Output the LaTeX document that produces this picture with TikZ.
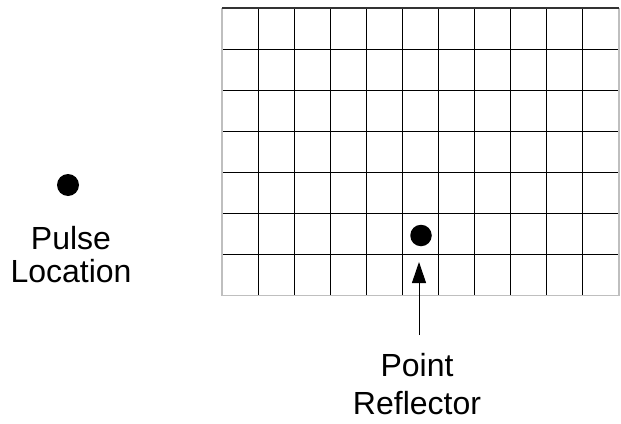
\documentclass[tikz,border=0pt]{standalone}
\usepackage{fontspec}
\setmainfont{Liberation Sans}
\usetikzlibrary{arrows.meta}
\begin{document}
\begin{tikzpicture}[x=1pt,y=-1pt,
  dot/.style={circle,fill=black,inner sep=0pt,minimum size=22pt},
  lbl/.style={anchor=base,inner sep=0pt,font=\fontsize{32}{36}\selectfont},
  gridline/.style={line width=1pt,black},
  border/.style={line width=1.3pt,color=black!25}]
\useasboundingbox (0,0) rectangle (621,423);
% grid
\foreach \i in {1,...,10} {
  \draw[gridline] ({222+\i*397/11},8) -- ({222+\i*397/11},295.5);
}
\foreach \j in {1,...,6} {
  \draw[gridline] (222,{8+\j*287.5/7}) -- (619,{8+\j*287.5/7});
}
\draw[border] (222,8) -- (222,295.5) -- (619,295.5) -- (619,8);
\draw[line width=1.2pt,black!80] (222,8) -- (619,8);
% pulse
\node[dot] (pulse) at (68,185) {};
\node[lbl] (pulsetxt) at (71,249) {Pulse};
\node[lbl] (loctxt) at (71,282) {Location};
% reflector
\node[dot,minimum size=21.5pt] (refl) at (421,235.5) {};
\coordinate (tail) at (419,335);
\coordinate (tip) at (419,262);
\draw[line width=1pt,-{Triangle[length=21pt,width=14pt]}] (tail) -- (tip);
\node[lbl] (pointtxt) at (417,376) {Point};
\node[lbl] (refltxt) at (417,414) {Reflector};
\end{tikzpicture}
\end{document}
